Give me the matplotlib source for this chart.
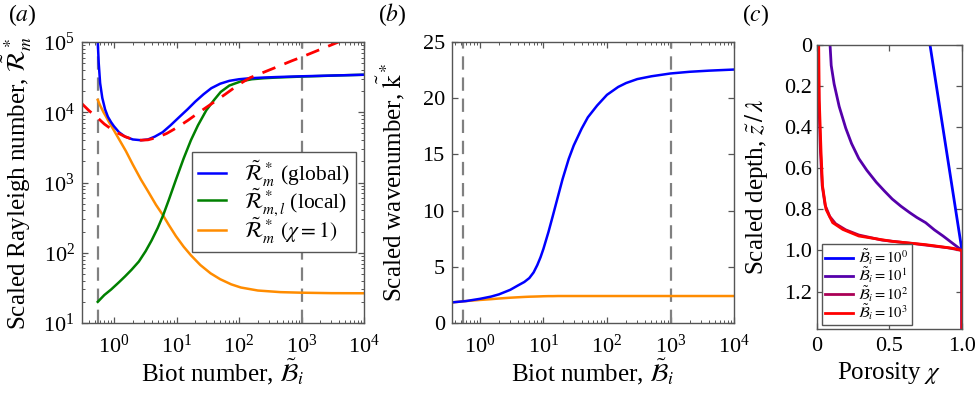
import matplotlib.pyplot as plt
from matplotlib.ticker import LogLocator, NullFormatter

plt.rcParams["font.family"] = "serif"
plt.rcParams["font.serif"] = ["Liberation Serif", "DejaVu Serif"]
plt.rcParams["mathtext.fontset"] = "stix"

# ---- (a) critical Rayleigh number vs Biot number ----
bi_glob = [0.55, 0.57, 0.6, 0.65, 0.72, 0.8, 0.9, 1.0, 1.2, 1.5, 2.0, 2.7, 3.5, 4.5, 6, 8, 11, 15,
           20, 27, 36, 50, 70, 100, 150, 250, 400, 700, 1000, 2000, 4000, 10000]
ra_glob = [1e5, 5e4, 2.6e4, 1.6e4, 1.1e4, 8.6e3, 7.2e3, 6.3e3, 5.2e3, 4.5e3, 4.1e3, 4.0e3, 4.1e3, 4.5e3,
           5.2e3, 6.5e3, 8.5e3, 1.1e4, 1.42e4, 1.8e4, 2.2e4, 2.55e4, 2.8e4, 2.95e4, 3.05e4, 3.12e4,
           3.17e4, 3.22e4, 3.25e4, 3.3e4, 3.35e4, 3.42e4]

bi_loc = [0.55, 0.7, 0.9, 1.2, 1.5, 1.9, 2.5, 3.2, 4, 5, 6.1, 7.5, 9.8, 13, 17, 22, 30, 40, 51, 70,
          107, 160, 250, 400, 700, 1000, 2000, 4000, 10000]
ra_loc = [20, 25, 30, 38, 46, 57, 75, 105, 150, 225, 340, 560, 1100, 2200, 4000, 6500, 1.07e4, 1.5e4,
          1.95e4, 2.4e4, 2.75e4, 2.95e4, 3.05e4, 3.12e4, 3.18e4, 3.22e4, 3.28e4, 3.35e4, 3.42e4]

bi_chi1 = [0.55, 0.6, 0.68, 0.75, 0.85, 1.0, 1.25, 1.55, 2.0, 2.7, 3.5, 4.7, 6.1, 7.5, 9.8, 13, 17,
           24, 35, 50, 75, 107, 200, 460, 1000, 3000, 10000]
ra_chi1 = [1.5e4, 1.25e4, 1.0e4, 8.6e3, 7e3, 5.5e3, 3.9e3, 2.8e3, 1.8e3, 1.1e3, 750, 480, 340, 250, 172,
           122, 92, 67, 51, 42, 35.5, 32, 29, 27.5, 27, 26.6, 26.5]

bi_asym = [0.3, 0.4, 0.55, 0.7, 1.0, 1.5, 2.0, 2.7, 3.5, 5, 7, 10, 15, 25, 40, 60, 100, 150, 250,
           400, 700, 1000, 2000, 3900]
ra_asym = [1.35e4, 1.05e4, 8.3e3, 6.8e3, 5.4e3, 4.5e3, 4.1e3, 4.0e3, 4.05e3, 4.4e3, 5.0e3, 6.0e3,
           7.6e3, 1.05e4, 1.4e4, 1.8e4, 2.5e4, 3.1e4, 3.72e4, 4.4e4, 5.4e4, 6.1e4, 7.85e4, 1e5]

bi_marks = [0.55, 1000]
log_ticks = [1, 10, 100, 1000, 10000]

# ---- (b) critical wavenumber ----
bi_k = [0.36, 0.6, 1.0, 1.5, 2, 3, 4, 5, 6, 7, 8, 9, 10, 12, 14, 17, 20, 25, 30, 40, 50, 70, 100,
        150, 200, 300, 500, 1000, 2000, 4000, 10000]
k_glob = [1.83, 1.95, 2.15, 2.35, 2.55, 2.95, 3.35, 3.65, 4.0, 4.5, 5.15, 5.85, 6.6, 8.1, 9.5, 11.3,
          12.8, 14.6, 15.8, 17.3, 18.3, 19.35, 20.3, 21.0, 21.35, 21.7, 21.95, 22.2, 22.35, 22.45, 22.55]
k_chi1 = [1.83, 1.95, 2.05, 2.12, 2.18, 2.25, 2.29, 2.32, 2.34, 2.35, 2.36, 2.37, 2.38, 2.39, 2.39,
          2.4, 2.4, 2.4, 2.4, 2.4, 2.4, 2.4, 2.4, 2.4, 2.4, 2.4, 2.4, 2.4, 2.4, 2.4, 2.4]

# ---- (c) porosity profiles ----
z_b1 = [0.0, 0.25, 0.5, 0.75, 1.0, 1.38]
chi_b1 = [0.78, 0.835, 0.89, 0.945, 1.0, 1.0]

z_b10 = [0.0, 0.1, 0.19, 0.3, 0.405, 0.48, 0.553, 0.61, 0.668, 0.71, 0.75, 0.785, 0.816, 0.84,
         0.865, 0.9, 0.93, 0.965, 1.0, 1.38]
chi_b10 = [0.092, 0.1, 0.12, 0.155, 0.2, 0.24, 0.29, 0.345, 0.41, 0.465, 0.52, 0.58, 0.64, 0.69,
           0.75, 0.81, 0.87, 0.935, 1.0, 1.0]

z_b100 = [0.0, 0.27, 0.52, 0.685, 0.78, 0.835, 0.87, 0.9, 0.925, 0.95, 0.968, 0.987, 1.0, 1.38]
chi_b100 = [0.01, 0.015, 0.026, 0.038, 0.058, 0.09, 0.13, 0.2, 0.29, 0.45, 0.68, 0.9, 1.0, 1.0]

z_b1000 = [0.0, 0.27, 0.52, 0.685, 0.8, 0.865, 0.898, 0.93, 0.956, 0.972, 0.99, 1.0, 1.38]
chi_b1000 = [0.014, 0.018, 0.03, 0.04, 0.064, 0.11, 0.18, 0.29, 0.52, 0.75, 0.94, 1.0, 1.0]

prof_colors = ["#0000ff", "#5500aa", "#aa0055", "#ff0000"]
prof_labels = [r"$\tilde{\mathcal{B}}_i = 10^0$", r"$\tilde{\mathcal{B}}_i = 10^1$",
               r"$\tilde{\mathcal{B}}_i = 10^2$", r"$\tilde{\mathcal{B}}_i = 10^3$"]

spine_col = "#555555"
blue, green, orange = "#0000ff", "#008000", "#ff8c00"


def style(ax, fs=16):
    for s in ax.spines.values():
        s.set_color(spine_col)
        s.set_linewidth(1.0)
    ax.tick_params(which="both", direction="in", top=True, right=True, color=spine_col,
                   labelsize=fs)
    ax.tick_params(which="major", length=4.5, width=0.9)
    ax.tick_params(which="minor", length=2.5, width=0.7)


def log_x(ax):
    ax.set_xticks(log_ticks)
    ax.xaxis.set_minor_locator(LogLocator(base=10, subs=range(2, 10), numticks=20))
    ax.xaxis.set_minor_formatter(NullFormatter())


fig = plt.figure(figsize=(9.79, 4.0), dpi=100)

# panel (a)
ax1 = fig.add_axes([0.0835, 0.1925, 0.2884, 0.7025])
ax1.set_xscale("log")
ax1.set_yscale("log")
for b in bi_marks:
    ax1.axvline(b, color="#808080", lw=1.6, dashes=(6, 3.5))
ax1.plot(bi_chi1, ra_chi1, color=orange, lw=1.8, label=r"$\tilde{\mathcal{R}}_m^*\ (\chi = 1)$")
ax1.plot(bi_loc, ra_loc, color=green, lw=1.8, label=r"$\tilde{\mathcal{R}}_{m,l}^*\ $(local)")
ax1.plot(bi_glob, ra_glob, color=blue, lw=1.8, label=r"$\tilde{\mathcal{R}}_m^*\ $(global)")
ax1.plot(bi_asym, ra_asym, color="#ff0000", lw=2.0, dashes=(5, 3.5))
log_x(ax1)
ax1.set_yticks([10, 100, 1000, 1e4, 1e5])
ax1.yaxis.set_minor_locator(LogLocator(base=10, subs=range(2, 10), numticks=20))
ax1.yaxis.set_minor_formatter(NullFormatter())
ax1.set_xlim(0.305, 1e4)
ax1.set_ylim(10, 1e5)
style(ax1)
ax1.tick_params(axis="x", which="major", pad=8)
ax1.tick_params(axis="y", which="major", pad=5)
ax1.set_xlabel(r"Biot number, $\tilde{\mathcal{B}}_i$", fontsize=18)
ax1.set_ylabel(r"Scaled Rayleigh number, $\tilde{\mathcal{R}}_m^*$", fontsize=18)
ax1.xaxis.set_label_coords(0.5, -0.12)
ax1.yaxis.set_label_coords(-0.17, 0.5)
h, l = ax1.get_legend_handles_labels()
leg = ax1.legend(h[::-1], l[::-1], loc="upper left", bbox_to_anchor=(0.39, 0.609), borderaxespad=0,
                 fontsize=15.5, fancybox=False, framealpha=1, edgecolor=spine_col,
                 handlelength=1.3, handletextpad=0.8, labelspacing=-0.1, borderpad=0.3)
leg.get_frame().set_linewidth(1.0)

# panel (b)
ax2 = fig.add_axes([0.4614, 0.1925, 0.2884, 0.7025])
ax2.set_xscale("log")
for b in bi_marks:
    ax2.axvline(b, color="#808080", lw=1.6, dashes=(6, 3.5))
ax2.plot(bi_k, k_chi1, color=orange, lw=1.8)
ax2.plot(bi_k, k_glob, color=blue, lw=1.8)
log_x(ax2)
ax2.set_xlim(0.36, 1e4)
ax2.set_ylim(0, 25)
ax2.set_yticks([0, 5, 10, 15, 20, 25])
style(ax2)
ax2.tick_params(axis="x", which="major", pad=8)
ax2.tick_params(axis="y", which="major", pad=5)
ax2.set_xlabel(r"Biot number, $\tilde{\mathcal{B}}_i$", fontsize=18)
ax2.set_ylabel(r"Scaled wavenumber, $\tilde{\mathrm{k}}^*$", fontsize=18)
ax2.xaxis.set_label_coords(0.5, -0.12)
ax2.yaxis.set_label_coords(-0.158, 0.5)

# panel (c)
ax3 = fig.add_axes([0.8342, 0.17875, 0.1484, 0.709])
profiles = [(chi_b1, z_b1), (chi_b10, z_b10), (chi_b100, z_b100), (chi_b1000, z_b1000)]
for (chi, z), c, lab in zip(profiles, prof_colors, prof_labels):
    ax3.plot(chi, z, color=c, lw=2.0, label=lab)
ax3.set_xlim(0, 1)
ax3.set_ylim(1.38, 0)
ax3.set_xticks([0, 0.5, 1.0])
ax3.set_xticklabels(["0", "0.5", "1.0"])
ax3.set_yticks([0, 0.2, 0.4, 0.6, 0.8, 1.0, 1.2])
ax3.set_yticklabels(["0", "0.2", "0.4", "0.6", "0.8", "1.0", "1.2"])
style(ax3)
ax3.tick_params(axis="x", which="major", pad=6)
ax3.tick_params(axis="y", which="major", pad=3.5)
ax3.set_xlabel(r"Porosity $\chi$", fontsize=18)
ax3.set_ylabel(r"Scaled depth, $\tilde{z}\,/\,\lambda$", fontsize=18)
ax3.xaxis.set_label_coords(0.5, -0.11)
ax3.yaxis.set_label_coords(-0.32, 0.5)
leg3 = ax3.legend(loc="lower left", bbox_to_anchor=(0.036, 0.012), borderaxespad=0, fontsize=10.5,
                  fancybox=False, framealpha=1, edgecolor=spine_col, handlelength=1.9,
                  handletextpad=0.35, labelspacing=-0.1, borderpad=0.22)
leg3.get_frame().set_linewidth(1.0)

fig.text(8 / 979, 1 - 15 / 400, "($a$)", fontsize=17, va="center", ha="left")
fig.text(378 / 979, 1 - 15 / 400, "($b$)", fontsize=17, va="center", ha="left")
fig.text(742 / 979, 1 - 15 / 400, "($c$)", fontsize=17, va="center", ha="left")

fig.savefig("out.png", dpi=100)
